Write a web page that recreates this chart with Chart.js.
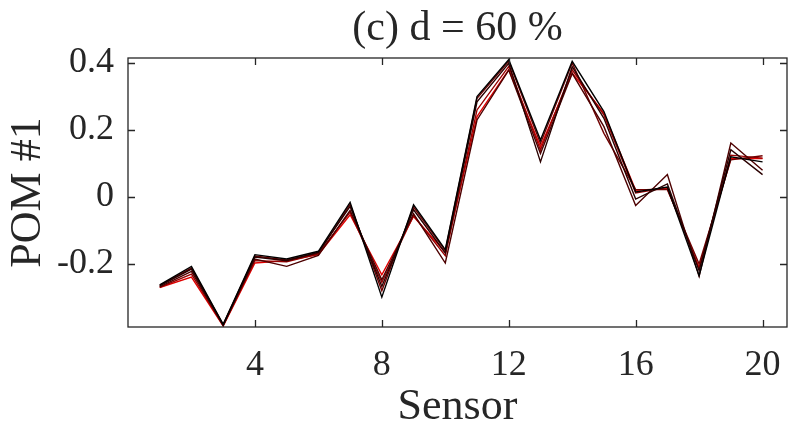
<!DOCTYPE html>
<html>
<head>
<meta charset="utf-8">
<script src="https://cdn.jsdelivr.net/npm/chart.js@4/dist/chart.umd.min.js"></script>
<style>
  html, body { margin: 0; padding: 0; background: #fff; }
  canvas { display: block; }
</style>
</head>
<body>
<canvas id="pomChart" width="788" height="425"></canvas>
<script>
// Sensor index on the x axis
const sensors = [1, 2, 3, 4, 5, 6, 7, 8, 9, 10, 11, 12, 13, 14, 15, 16, 17, 18, 19, 20];

// POM #1 curves (one per realisation)
const pomA = [-0.262, -0.207, -0.380, -0.172, -0.185, -0.162, -0.016, -0.299, -0.023, -0.157, 0.300, 0.410, 0.170, 0.405, 0.255, 0.015, 0.030, -0.235, 0.120, 0.105];
const pomB = [-0.265, -0.215, -0.382, -0.179, -0.190, -0.165, -0.028, -0.267, -0.038, -0.167, 0.284, 0.399, 0.105, 0.389, 0.235, -0.006, 0.039, -0.220, 0.141, 0.067];
const pomC = [-0.268, -0.222, -0.383, -0.185, -0.207, -0.174, -0.040, -0.247, -0.050, -0.197, 0.230, 0.379, 0.130, 0.369, 0.210, -0.025, 0.067, -0.237, 0.161, 0.080];
const pomD = [-0.264, -0.212, -0.381, -0.176, -0.188, -0.168, -0.022, -0.280, -0.030, -0.160, 0.295, 0.405, 0.160, 0.400, 0.190, 0.022, 0.022, -0.200, 0.111, 0.123];
const pomE = [-0.270, -0.230, -0.384, -0.190, -0.193, -0.170, -0.045, -0.255, -0.055, -0.175, 0.260, 0.390, 0.140, 0.380, 0.245, 0.012, 0.028, -0.215, 0.125, 0.116];
const pomF = [-0.270, -0.239, -0.385, -0.197, -0.190, -0.172, -0.053, -0.232, -0.058, -0.165, 0.240, 0.380, 0.150, 0.370, 0.250, 0.020, 0.025, -0.210, 0.115, 0.115];

const seriesList = [pomA, pomB, pomC, pomD, pomE, pomF];
const lineColors = ['#000000', '#2a0000', '#4d0000', '#700000', '#960000', '#e00000'];

// tick labels
const xTicks = [4, 8, 12, 16, 20];
const yTicks = [-0.2, 0, 0.2, 0.4];
const yTickLabels = ['-0.2', '0', '0.2', '0.4'];

const serif = "'Liberation Serif', 'DejaVu Serif', serif";
const ink = '#262626';

// box round the plot with inward ticks, like the matlab figure
const boxPlugin = {
  id: 'box',
  afterDraw(chart) {
    const { ctx, chartArea: a, scales } = chart;
    ctx.save();
    ctx.strokeStyle = ink;
    ctx.lineWidth = 1.3;
    ctx.strokeRect(a.left, a.top, a.right - a.left, a.bottom - a.top);
    const len = 7;
    ctx.beginPath();
    xTicks.forEach(v => {
      const px = Math.round(scales.x.getPixelForValue(v)) + 0.5;
      ctx.moveTo(px, a.bottom); ctx.lineTo(px, a.bottom - len);
      ctx.moveTo(px, a.top); ctx.lineTo(px, a.top + len);
    });
    yTicks.forEach(v => {
      const py = Math.round(scales.y.getPixelForValue(v)) + 0.5;
      ctx.moveTo(a.left, py); ctx.lineTo(a.left + len, py);
      ctx.moveTo(a.right, py); ctx.lineTo(a.right - len, py);
    });
    ctx.stroke();
    ctx.restore();
  }
};

const datasets = seriesList.map((vals, i) => ({
  label: 'run ' + (i + 1),
  data: sensors.map((s, j) => ({ x: s, y: vals[j] })),
  borderColor: lineColors[i],
  borderWidth: 1.4,
  pointRadius: 0,
  tension: 0,
  fill: false
}));

new Chart(document.getElementById('pomChart'), {
  type: 'line',
  data: { datasets },
  options: {
    responsive: false,
    animation: false,
    layout: { padding: { left: 0, right: 1, top: 0, bottom: 0 } },
    plugins: {
      legend: { display: false },
      tooltip: { enabled: false },
      title: {
        display: true,
        text: '(c) d = 60 %',
        fullSize: false,
        color: ink,
        font: { family: serif, size: 42, weight: 'normal', lineHeight: 1 },
        padding: { top: 8, bottom: 8 }
      }
    },
    scales: {
      x: {
        type: 'linear',
        min: 0,
        max: 20.77,
        grid: { display: false, drawTicks: false },
        border: { display: false },
        afterBuildTicks: s => { s.ticks = xTicks.map(v => ({ value: v })); },
        afterFit: s => { s.height = 98; s.paddingLeft = 0; s.paddingRight = 0; },
        ticks: {
          color: ink,
          padding: 17,
          maxRotation: 0,
          autoSkip: false,
          font: { family: serif, size: 36, lineHeight: 1.2 }
        },
        title: {
          display: true,
          text: 'Sensor',
          color: ink,
          font: { family: serif, size: 44, lineHeight: 1 },
          padding: { top: 0, bottom: -4 }
        }
      },
      y: {
        type: 'linear',
        min: -0.388,
        max: 0.415,
        grid: { display: false, drawTicks: false },
        border: { display: false },
        afterBuildTicks: s => { s.ticks = yTicks.map(v => ({ value: v })); },
        afterFit: s => { s.width = 128; },
        ticks: {
          color: ink,
          padding: 14,
          autoSkip: false,
          font: { family: serif, size: 36 },
          callback: v => yTickLabels[yTicks.indexOf(v)] ?? ''
        },
        title: {
          display: true,
          text: 'POM #1',
          color: ink,
          font: { family: serif, size: 44, lineHeight: 1 },
          padding: { top: 6, bottom: 0 }
        }
      }
    }
  },
  plugins: [boxPlugin]
});
</script>
</body>
</html>
